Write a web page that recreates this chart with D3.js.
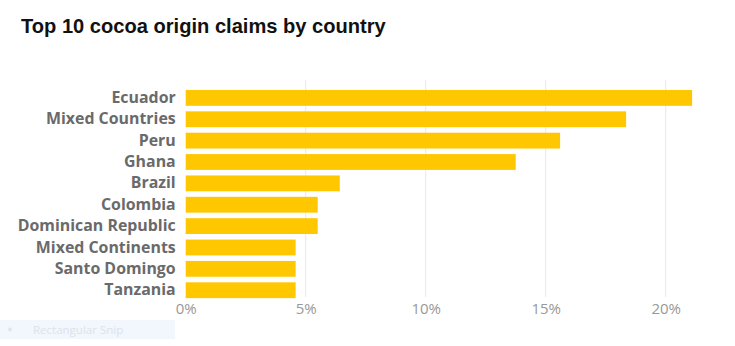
<!DOCTYPE html>
<html><head><meta charset="utf-8">
<script src="https://cdn.jsdelivr.net/npm/d3@7"></script>
<style>body{margin:0;background:#fff;}svg{display:block;}</style>
</head><body>
<svg id="c" width="735" height="346"></svg>
<script>
const categories = ["Ecuador","Mixed Countries","Peru","Ghana","Brazil","Colombia","Dominican Republic","Mixed Continents","Santo Domingo","Tanzania"];
const values = [21.1, 18.35, 15.6, 13.75, 6.42, 5.5, 5.5, 4.58, 4.58, 4.58];
const tickValues = [0, 5, 10, 15, 20];
const title = "Top 10 cocoa origin claims by country";

const svg = d3.select("#c");
const x = d3.scaleLinear().domain([0, 20]).range([185.7, 665.7]);
const y = d3.scaleBand().domain(categories).range([87.2, 300.9]).paddingInner(0.26).paddingOuter(0.13);

svg.append("text").attr("x", 21).attr("y", 33)
  .attr("font-family", "Liberation Sans, Arial, sans-serif").attr("font-weight", "bold")
  .attr("font-size", 20.1).attr("fill", "#111").text(title);

// gridlines
svg.append("g").selectAll("line").data(tickValues.slice(1)).join("line")
  .attr("x1", d => x(d)).attr("x2", d => x(d)).attr("y1", 80).attr("y2", 297)
  .attr("stroke", "#e8e8e8").attr("stroke-width", 1);

// bars
svg.append("g").selectAll("rect").data(categories).join("rect")
  .attr("x", x(0)).attr("y", d => y(d))
  .attr("width", (d, i) => x(values[i]) - x(0)).attr("height", y.bandwidth())
  .attr("fill", "#ffc700");

// y labels
const yAxis = d3.axisLeft(y).tickSize(0).tickPadding(10);
const gy = svg.append("g").attr("transform", `translate(${x(0)},0)`).call(yAxis);
gy.select(".domain").remove();
gy.selectAll("text").attr("font-family", "Open Sans, sans-serif").attr("font-weight", 700)
  .attr("font-size", 15.9).attr("fill", "#6a6a6a");

// x axis
const xAxis = d3.axisBottom(x).tickValues(tickValues).tickSize(0).tickPadding(0).tickFormat(d => d + "%");
const gx = svg.append("g").attr("transform", "translate(0,303)").call(xAxis);
gx.select(".domain").remove();
gx.selectAll("text").attr("font-family", "Open Sans, sans-serif").attr("font-weight", 400)
  .attr("font-size", 15).attr("fill", "#999").attr("dy", "0.71em");

// snip overlay artifact
svg.append("rect").attr("x", 0).attr("y", 320).attr("width", 175).attr("height", 19).attr("fill", "#f1f7fd");
svg.append("circle").attr("cx", 10).attr("cy", 329.5).attr("r", 2).attr("fill", "#dde6f0");
svg.append("text").attr("x", 33).attr("y", 334).attr("font-family", "Open Sans, sans-serif")
  .attr("font-size", 11.5).attr("fill", "#dbe3ec").text("Rectangular Snip");
</script>
</body></html>
